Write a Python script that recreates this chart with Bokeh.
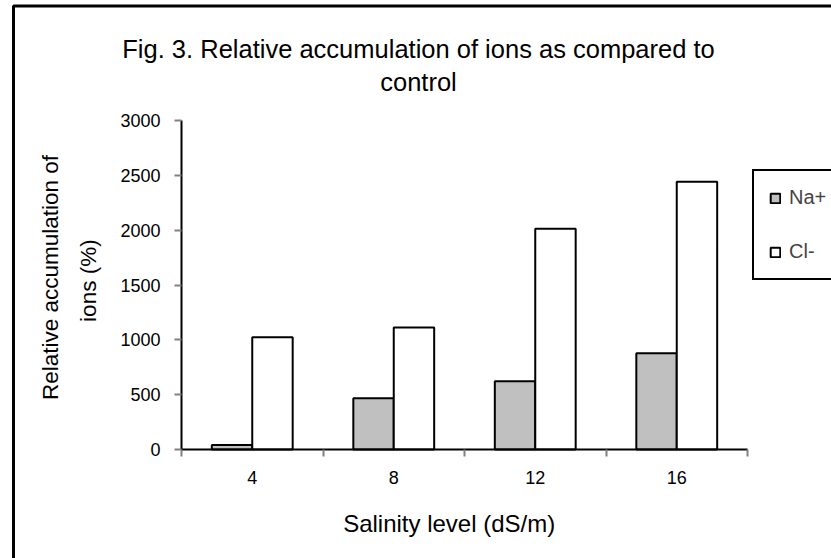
import numpy as np
from bokeh.plotting import figure
from bokeh.models import (ColumnDataSource, Range1d, FixedTicker, Legend, LegendItem,
                          Label, BoxAnnotation, LinearAxis)
from bokeh.transform import dodge
from bokeh.embed import file_html
from bokeh.resources import INLINE

# ---- data ----
categories = ["4", "8", "12", "16"]
na_values = [40, 468, 622, 878]
cl_values = [1024, 1112, 2012, 2441]
y_ticks = [0, 500, 1000, 1500, 2000, 2500, 3000]
y_max = 3000
title_lines = ["Fig. 3. Relative accumulation of ions as compared to", "control"]
ylabel_lines = ["Relative accumulation of", "ions  (%)"]
xlabel = "Salinity level  (dS/m)"
series_names = ["Na+", "Cl-"]

FONT = "Liberation Sans"
W, H = 831, 558
# where the data area sits on the canvas (pixels)
AL, AR, AT, AB = 181, 747, 120, 449

n = len(categories)
xs = (AR - AL) / n          # px per category
ys = (AB - AT) / y_max      # px per unit

# ranges chosen so that the frame covers the whole canvas
x_range = Range1d(-AL / xs, n + (W - AR) / xs)
y_range = Range1d(-(H - AB) / ys, y_max + AT / ys)

def fx(px):
    return (px - AL) / xs

def fy(py):
    return (AB - py) / ys

centers = [i + 0.5 for i in range(n)]
src = ColumnDataSource(dict(x=centers, na=na_values, cl=cl_values))

p = figure(width=W, height=H, output_backend="svg", toolbar_location=None,
           x_range=x_range, y_range=y_range,
           x_axis_location=None, y_axis_location=None,
           min_border=0, min_border_left=0, min_border_right=0,
           min_border_top=0, min_border_bottom=0)
p.title.visible = False
p.outline_line_color = None
p.grid.visible = False
p.background_fill_color = "white"
p.border_fill_color = "white"

bw = 1 / 3.5
r_na = p.vbar(x=dodge("x", -bw / 2, range=p.x_range), top="na", width=bw, source=src,
              fill_color="#C0C0C0", line_color="black", line_width=2)
r_cl = p.vbar(x=dodge("x", bw / 2, range=p.x_range), top="cl", width=bw, source=src,
              fill_color="white", line_color="black", line_width=2)

# y axis
ya = LinearAxis(fixed_location=0, bounds=(0, y_max),
                ticker=FixedTicker(ticks=y_ticks, minor_ticks=[]))
ya.axis_line_color = "black"
ya.axis_line_width = 2
ya.major_tick_in = 0
ya.major_tick_out = 7
ya.major_tick_line_color = "#808080"
ya.major_tick_line_width = 2
ya.minor_tick_line_color = None
ya.major_label_text_font = FONT
ya.major_label_text_font_size = "18px"
ya.major_label_text_color = "black"
ya.major_label_standoff = 14
p.add_layout(ya, "left")

# x axis: labels at category centres, ticks at category boundaries
xa = LinearAxis(fixed_location=0, bounds=(0, n),
                ticker=FixedTicker(ticks=centers, minor_ticks=list(range(n + 1))))
xa.major_label_overrides = {c: lab for c, lab in zip(centers, categories)}
xa.axis_line_color = "black"
xa.axis_line_width = 2
xa.major_tick_in = 0
xa.major_tick_out = 0
xa.minor_tick_in = 0
xa.minor_tick_out = 7
xa.minor_tick_line_color = "#808080"
xa.minor_tick_line_width = 2
xa.major_label_text_font = FONT
xa.major_label_text_font_size = "18px"
xa.major_label_text_color = "black"
xa.major_label_standoff = 14
p.add_layout(xa, "below")

def add_text(txt, px, py, size, angle=0.0):
    p.add_layout(Label(x=fx(px), y=fy(py), text=txt, text_font=FONT,
                       text_font_size=size, text_align="center",
                       text_baseline="middle", angle=angle, text_color="black"))

add_text(title_lines[0], 418, 48, "25.5px")
add_text(title_lines[1], 418, 81, "25.5px")
add_text(ylabel_lines[0], 50, 277, "22.5px", angle=np.pi / 2)
add_text(ylabel_lines[1], 88, 277, "22.5px", angle=np.pi / 2)
add_text(xlabel, 452, 523, "24px")

# legend
legend = Legend(items=[LegendItem(label=series_names[0], renderers=[r_na]),
                       LegendItem(label=series_names[1], renderers=[r_cl])],
                location=(752, H - 280),
                border_line_color="black", border_line_width=2, border_line_alpha=1.0,
                background_fill_color="white", background_fill_alpha=1.0,
                label_text_font=FONT, label_text_font_size="20px",
                glyph_width=12, glyph_height=12, label_height=20,
                label_standoff=8, spacing=31, padding=15, margin=0)
p.add_layout(legend)

# outer chart border
p.add_layout(BoxAnnotation(left=fx(13), top=fy(5.5), right=fx(3000), bottom=fy(3000),
                           fill_color=None, fill_alpha=0.0,
                           line_color="black", line_alpha=1.0, line_width=3))

open("out.html", "w").write(file_html(p, INLINE))
